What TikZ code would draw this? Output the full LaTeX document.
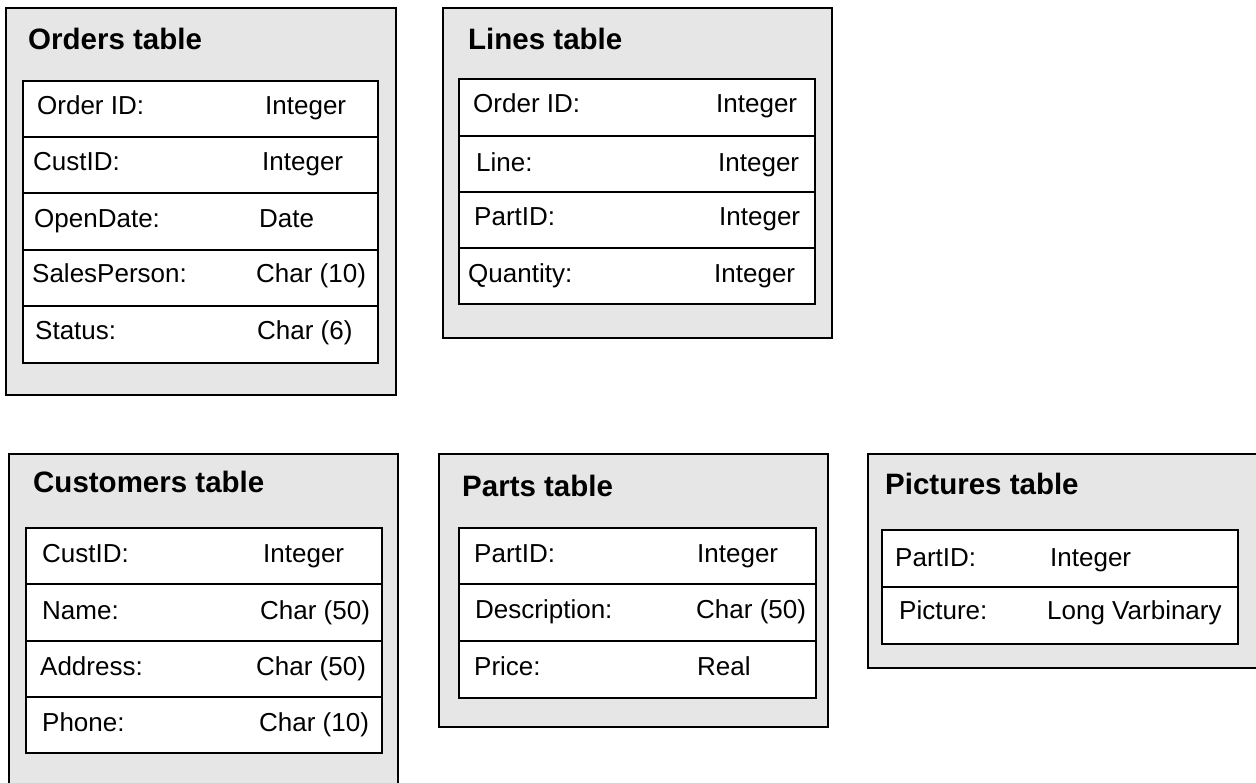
\documentclass[tikz,border=0pt]{standalone}
\usepackage{fontspec}
\setmainfont{Liberation Sans}
\begin{document}
\begin{tikzpicture}[x=1pt,y=-1pt,
  outerbox/.style={draw=black,fill=boxgray,line width=2.8pt},
  innerbox/.style={draw=black,fill=white,line width=2.8pt},
  divider/.style={draw=black,line width=2pt},
  title/.style={anchor=base west,inner sep=0pt,font=\fontsize{29.5}{34}\selectfont\bfseries},
  field/.style={anchor=base west,inner sep=0pt,font=\fontsize{26}{30}\selectfont}]
\definecolor{boxgray}{HTML}{E6E6E6}
\useasboundingbox (0,0) rectangle (1256,783);
\clip (0,0) rectangle (1256,783);
% ---------- Orders table
\draw[outerbox] (6,8) rectangle (396,395);
\draw[innerbox] (23,81) rectangle (378,363);
\foreach \yy in {137,193,250,306} \draw[divider] (23,\yy) -- (378,\yy);
\node[title] (ot) at (28,50) {Orders table};
\node[field] (o1a) at (37,115) {Order ID:};
\node[field] (o1b) at (265,115) {Integer};
\node[field] (o2a) at (33,171) {CustID:};
\node[field] (o2b) at (262,171) {Integer};
\node[field] (o3a) at (34,228) {OpenDate:};
\node[field] (o3b) at (259,228) {Date};
\node[field] (o4a) at (32,283) {SalesPerson:};
\node[field] (o4b) at (256,283) {Char (10)};
\node[field] (o5a) at (35,340) {Status:};
\node[field] (o5b) at (257,340) {Char (6)};
% ---------- Lines table
\draw[outerbox] (443,8) rectangle (832,338);
\draw[innerbox] (459,79) rectangle (815,304);
\foreach \yy in {136,192,248} \draw[divider] (459,\yy) -- (815,\yy);
\node[title] (lt) at (468,50) {Lines table};
\node[field] (l1a) at (473,113) {Order ID:};
\node[field] (l1b) at (716,113) {Integer};
\node[field] (l2a) at (476,172) {Line:};
\node[field] (l2b) at (718,172) {Integer};
\node[field] (l3a) at (474,226) {PartID:};
\node[field] (l3b) at (719,226) {Integer};
\node[field] (l4a) at (468,283) {Quantity:};
\node[field] (l4b) at (714,283) {Integer};
% ---------- Customers table
\draw[outerbox] (9,454) rectangle (398,800);
\draw[innerbox] (26,528) rectangle (382,753);
\foreach \yy in {584,641,697} \draw[divider] (26,\yy) -- (382,\yy);
\node[title] (ct) at (33,493) {Customers table};
\node[field] (c1a) at (42,562) {CustID:};
\node[field] (c1b) at (263,562) {Integer};
\node[field] (c2a) at (42,619) {Name:};
\node[field] (c2b) at (260,619) {Char (50)};
\node[field] (c3a) at (40,675) {Address:};
\node[field] (c3b) at (256,675) {Char (50)};
\node[field] (c4a) at (42,731) {Phone:};
\node[field] (c4b) at (259,731) {Char (10)};
% ---------- Parts table
\draw[outerbox] (439,454) rectangle (828,727);
\draw[innerbox] (459,528) rectangle (816,698);
\foreach \yy in {584,641} \draw[divider] (459,\yy) -- (816,\yy);
\node[title] (pt) at (462,496) {Parts table};
\node[field] (p1a) at (474,562) {PartID:};
\node[field] (p1b) at (697,562) {Integer};
\node[field] (p2a) at (475,618) {Description:};
\node[field] (p2b) at (696,618) {Char (50)};
\node[field] (p3a) at (474,675) {Price:};
\node[field] (p3b) at (697,675) {Real};
% ---------- Pictures table
\draw[outerbox] (868,454) rectangle (1260,668);
\draw[innerbox] (882,530) rectangle (1238,644);
\draw[divider] (882,587) -- (1238,587);
\node[title] (qt) at (885,494) {Pictures table};
\node[field] (q1a) at (895,566) {PartID:};
\node[field] (q1b) at (1050,566) {Integer};
\node[field] (q2a) at (899,619) {Picture:};
\node[field] (q2b) at (1047,619) {Long Varbinary};
\end{tikzpicture}
\end{document}
